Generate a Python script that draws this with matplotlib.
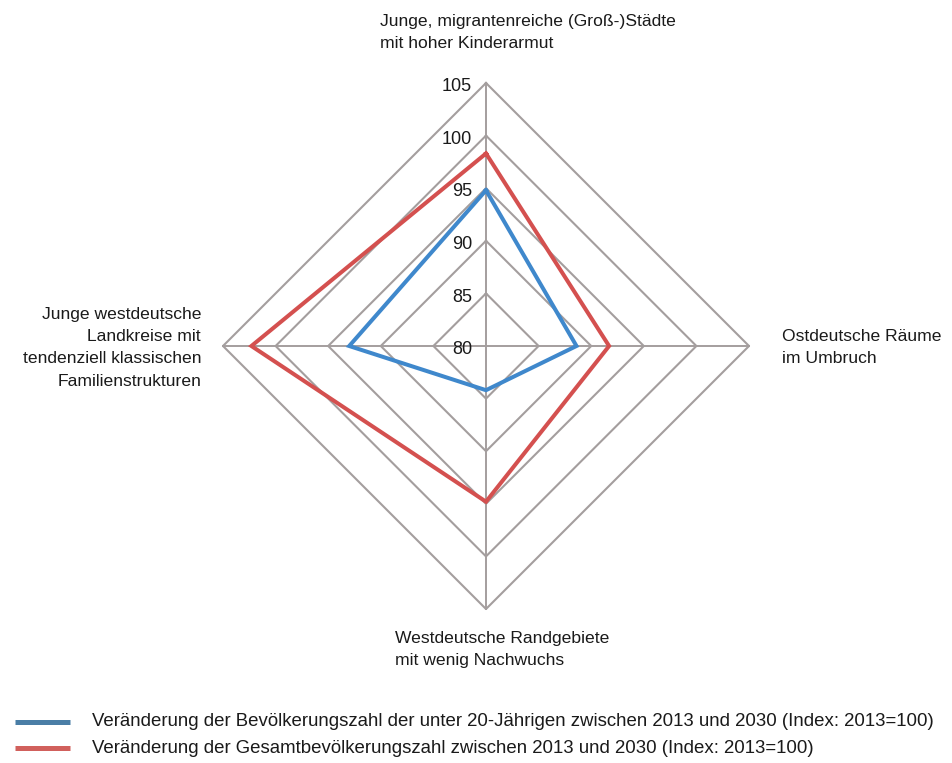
import numpy as np
import matplotlib.pyplot as plt

plt.rcParams['font.family'] = ['Liberation Sans', 'DejaVu Sans']

categories = [
    'Junge, migrantenreiche (Groß-)Städte\nmit hoher Kinderarmut',
    'Ostdeutsche Räume\nim Umbruch',
    'Westdeutsche Randgebiete\nmit wenig Nachwuchs',
    'Junge westdeutsche\nLandkreise mit\ntendenziell klassischen\nFamilienstrukturen',
]
u20 = [94.8, 88.6, 84.2, 93.0]
total = [98.3, 91.7, 94.8, 102.3]
ticks = [80, 85, 90, 95, 100, 105]
legend_labels = [
    'Veränderung der Bevölkerungszahl der unter 20-Jährigen zwischen 2013 und 2030 (Index: 2013=100)',
    'Veränderung der Gesamtbevölkerungszahl zwischen 2013 und 2030 (Index: 2013=100)',
]

vmin = 80
angles = np.array([0, 90, 180, 270]) * np.pi / 180


def to_xy(vals):
    r = np.asarray(vals, dtype=float) - vmin
    x = r * np.sin(angles)
    y = r * np.cos(angles)
    return np.append(x, x[0]), np.append(y, y[0])


W, H = 953, 763
px = 263 / 25.0  # pixels per unit
cx, cy = 486, 346  # centre in pixels (from top)

fig = plt.figure(figsize=(W / 100, H / 100), dpi=100)
ax = fig.add_axes([0, 0, 1, 1])
ax.set_xlim(-cx / px, (W - cx) / px)
ax.set_ylim(-(H - cy) / px, cy / px)
ax.axis('off')

grid_c = '#a49e9e'
for t in ticks[1:]:
    gx, gy = to_xy([t] * 4)
    ax.plot(gx, gy, color=grid_c, lw=1.5, zorder=1)
top = ticks[-1] - vmin
ax.plot([0, 0], [-top, top], color=grid_c, lw=1.4, zorder=1)
ax.plot([-top, top], [0, 0], color=grid_c, lw=1.4, zorder=1)

for t in ticks:
    ax.text(-14 / px, t - vmin - 0.35, str(t), ha='right', va='center',
            fontsize=13, color='#1a1a1a', zorder=3)

red = '#d4504f'
blue = '#3f88cc'
rx, ry = to_xy(total)
ax.plot(rx, ry, color=red, lw=2.9, zorder=2, solid_joinstyle='miter')
bx, by = to_xy(u20)
ax.plot(bx, by, color=blue, lw=2.9, zorder=2, solid_joinstyle='miter')


def pos(x, y):
    return (x - cx) / px, (cy - y) / px


tc = '#1a1a1a'
fs = 12.6
ls = 1.6
ax.text(*pos(380, 14), categories[0], ha='left', va='top', fontsize=fs,
        color=tc, linespacing=ls)
ax.text(*pos(782, 329), categories[1], ha='left', va='top', fontsize=fs,
        color=tc, linespacing=ls)
ax.text(*pos(395, 631), categories[2], ha='left', va='top', fontsize=fs,
        color=tc, linespacing=ls)
ax.text(*pos(201, 307), categories[3], ha='right', va='top', fontsize=fs,
        color=tc, linespacing=ls)

leg_colors = ['#4a7ea6', '#d1605c']
for i, (lab, c) in enumerate(zip(legend_labels, leg_colors)):
    yy = 722 + 26 * i
    ax.plot([pos(15, yy)[0], pos(70, yy)[0]], [pos(15, yy)[1]] * 2,
            color=c, lw=3.6, solid_capstyle='butt')
    ax.text(*pos(92, yy), lab, ha='left', va='center', fontsize=13.4, color=tc)

fig.savefig('out.png', dpi=100)
